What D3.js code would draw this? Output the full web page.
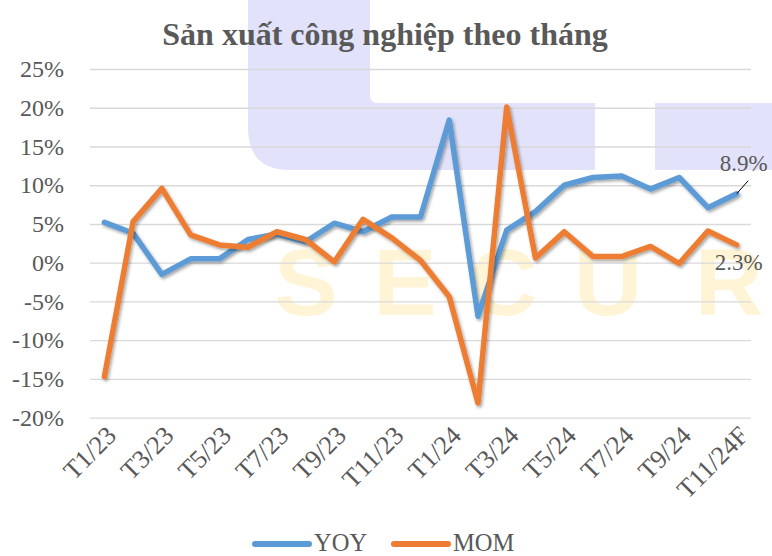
<!DOCTYPE html>
<html>
<head>
<meta charset="utf-8">
<script src="https://cdn.jsdelivr.net/npm/d3@7"></script>
<style>
  html, body { margin: 0; padding: 0; background: #ffffff; }
  svg { display: block; }
  text { font-family: "Liberation Serif", "Times New Roman", serif; fill: #595959; }
</style>
</head>
<body>
<svg id="chart" width="772" height="556"></svg>
<script>
const categories = ["T1/23","T2/23","T3/23","T4/23","T5/23","T6/23","T7/23","T8/23","T9/23","T10/23","T11/23","T12/23",
                    "T1/24","T2/24","T3/24","T4/24","T5/24","T6/24","T7/24","T8/24","T9/24","T10/24","T11/24F"];
const yoy = [5.2, 3.8, -1.5, 0.5, 0.5, 3.0, 3.7, 2.7, 5.1, 4.0, 5.9, 5.9,
             18.4, -6.9, 4.2, 6.6, 10.0, 11.0, 11.2, 9.5, 11.0, 7.1, 8.9];
const mom = [-14.7, 5.3, 9.6, 3.6, 2.3, 2.0, 4.0, 3.0, 0.1, 5.6, 3.2, 0.3,
             -4.4, -18.1, 20.1, 0.6, 4.0, 0.8, 0.8, 2.1, -0.1, 4.1, 2.3];
const yTicks = [-20, -15, -10, -5, 0, 5, 10, 15, 20, 25];
const seriesNames = ["YOY", "MOM"];
const seriesColors = ["#5B9BD5", "#ED7D31"];
const title = "Sản xuất công nghiệp theo tháng";
const watermarkLetters = ["S", "E", "C", "U", "R"];

const svg = d3.select("#chart");
const W = 772, H = 556;
const plot = { left: 90, right: 751, top: 69, bottom: 417.7 };

// ---- watermark background ----
const wm = svg.append("g");
const lav = "#E2E2FB";
wm.append("path")
  .attr("fill", lav)
  .attr("d", (() => {
    const p = d3.path();
    p.moveTo(248, 0);
    p.lineTo(370, 0);
    p.lineTo(370, 95);
    p.quadraticCurveTo(370, 103, 378, 103);
    p.lineTo(595, 103);
    p.lineTo(595, 170);
    p.lineTo(290, 170);
    p.quadraticCurveTo(248, 170, 248, 128);
    p.closePath();
    return p.toString();
  })());
wm.append("rect").attr("x", 655).attr("y", 103).attr("width", 117).attr("height", 67).attr("fill", lav);
const letterX = [306, 405, 503, 608, 729];
wm.selectAll("text.wl").data(watermarkLetters).join("text")
  .attr("class", "wl")
  .attr("x", (d, i) => letterX[i])
  .attr("y", 315)
  .attr("text-anchor", "middle")
  .style("font-family", "'Liberation Sans', Arial, sans-serif")
  .style("font-weight", "bold")
  .style("font-size", "95px")
  .style("fill", "#FFF5D6")
  .text(d => d);

// ---- scales ----
const x = d3.scaleBand().domain(categories).range([plot.left, plot.right]);
const cx = c => x(c) + x.bandwidth() / 2;
const y = d3.scaleLinear().domain([-20, 25]).range([plot.bottom, plot.top]);

// gridlines
const grid = svg.append("g").attr("transform", `translate(${plot.left},0)`)
  .call(d3.axisLeft(y).tickValues(yTicks).tickSize(-(plot.right - plot.left)).tickFormat(""));
grid.select(".domain").remove();
grid.selectAll("line").attr("stroke", "#D9D9D9").attr("stroke-width", 1.3);

// y labels
const yAxis = svg.append("g").attr("transform", `translate(${plot.left},0)`)
  .call(d3.axisLeft(y).tickValues(yTicks).tickSize(0).tickPadding(26).tickFormat(d => d + "%"));
yAxis.select(".domain").remove();
yAxis.selectAll("text")
  .style("font-family", "'Liberation Serif', 'Times New Roman', serif")
  .style("font-size", "24px").attr("fill", "#595959");

// x labels
const xAxis = svg.append("g").attr("transform", `translate(0,${plot.bottom})`)
  .call(d3.axisBottom(x).tickSize(0).tickFormat((d, i) => i % 2 === 0 ? d : ""));
xAxis.select(".domain").remove();
xAxis.selectAll("text")
  .style("font-family", "'Liberation Serif', 'Times New Roman', serif")
  .style("font-size", "26px").attr("fill", "#595959")
  .attr("text-anchor", "end")
  .attr("y", 0).attr("dy", "0.35em")
  .attr("transform", "translate(7,13) rotate(-45)");

// shadow filter
const defs = svg.append("defs");
const f = defs.append("filter").attr("id", "shadow").attr("x", "-10%").attr("y", "-10%").attr("width", "120%").attr("height", "120%");
f.append("feDropShadow").attr("dx", 1.5).attr("dy", 2).attr("stdDeviation", 1.6)
  .attr("flood-color", "#000").attr("flood-opacity", 0.35);

const line = d3.line().x((d, i) => cx(categories[i])).y(d => y(d));
const seriesData = [yoy, mom];
svg.append("g").selectAll("path.series").data(seriesData).join("path")
  .attr("class", "series")
  .attr("d", d => line(d))
  .attr("fill", "none")
  .attr("stroke", (d, i) => seriesColors[i])
  .attr("stroke-width", 5.5)
  .attr("stroke-linejoin", "round")
  .attr("stroke-linecap", "round")
  .attr("filter", "url(#shadow)");

// data labels for last point
const lastI = categories.length - 1;
const lx = cx(categories[lastI]);
svg.append("line")
  .attr("x1", lx).attr("y1", y(yoy[lastI]))
  .attr("x2", lx + 11.5).attr("y2", y(yoy[lastI]) - 13)
  .attr("stroke", "#000").attr("stroke-width", 1);
svg.append("text").attr("x", lx - 17).attr("y", 170.5)
  .style("font-size", "23px").text(yoy[lastI].toFixed(1) + "%");
svg.append("text").attr("x", lx - 22).attr("y", 270)
  .style("font-size", "23px").text(mom[lastI].toFixed(1) + "%");

// title
svg.append("text").attr("x", 385).attr("y", 45)
  .attr("text-anchor", "middle")
  .style("font-weight", "bold").style("font-size", "32px")
  .text(title);

// legend
const legendX = [253, 392];
const lg = svg.append("g");
seriesNames.forEach((n, i) => {
  lg.append("line").attr("x1", legendX[i] + 2).attr("x2", legendX[i] + 56)
    .attr("y1", 544).attr("y2", 544)
    .attr("stroke", seriesColors[i]).attr("stroke-width", 6).attr("stroke-linecap", "round");
  lg.append("text").attr("x", legendX[i] + 61).attr("y", 551)
    .style("font-size", "24.5px").text(n);
});
</script>
</body>
</html>
